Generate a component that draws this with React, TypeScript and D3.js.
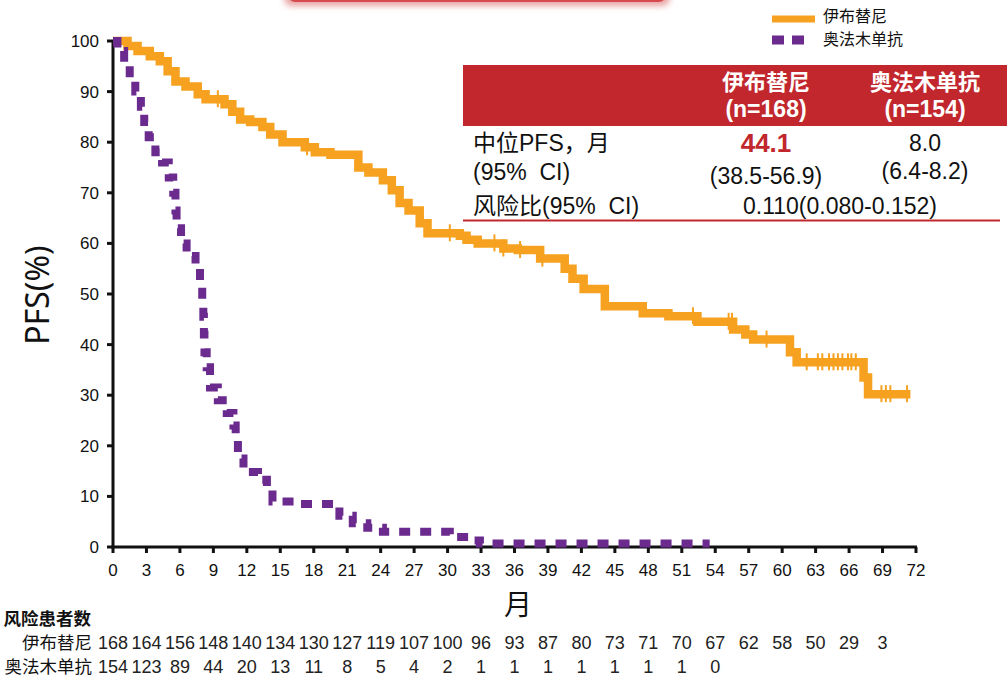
import React from "react";
import * as d3 from "d3";

// ---- Data ----
const xTicks = [0, 3, 6, 9, 12, 15, 18, 21, 24, 27, 30, 33, 36, 39, 42, 45, 48, 51, 54, 57, 60, 63, 66, 69, 72];
const yTicks = [0, 10, 20, 30, 40, 50, 60, 70, 80, 90, 100];

// Ibrutinib KM steps: [month, PFS%]
const ibrTimes = [0, 1.3, 2.2, 3.3, 4.2, 4.9, 5.6, 6.5, 7.6, 8.3, 10.0, 10.7, 11.4, 12.3, 13.4, 14.1, 15.2, 17.2, 18.1, 19.5, 22.0, 22.9, 24.2, 25.0, 25.7, 26.5, 27.5, 28.2, 31.1, 31.7, 32.7, 35.0, 36.3, 38.3, 40.5, 41.2, 42.2, 44.1, 47.5, 49.8, 52.4, 55.6, 56.7, 57.4, 60.7, 61.3, 67.3, 67.7];
const ibrValues = [100, 99, 98, 97, 96, 94, 92, 91, 89.5, 88.5, 87.5, 86, 84.5, 84, 83, 81.5, 80, 79, 78, 77.5, 75, 74, 72.5, 70.5, 68, 66.5, 64, 62, 61.5, 60.7, 60, 59, 58.7, 57, 55, 53, 51, 47.6, 46.2, 45.6, 44.5, 43, 42, 41, 38.5, 36.5, 33.5, 30.2];
const ibrEnd = 71.5;
const ibrCensor = [9.4, 17.4, 30.2, 34.2, 35.0, 36.5, 38.5, 52.0, 55.2, 55.5, 58.6, 62.2, 63.2, 63.6, 64.2, 64.6, 65.0, 65.4, 65.9, 66.2, 66.6, 68.9, 69.3, 69.7, 71.2];

// Ofatumumab KM steps
const ofaTimes = [0, 0.4, 1.0, 1.5, 2.0, 2.5, 2.8, 3.2, 3.8, 4.4, 5.0, 5.4, 5.6, 5.7, 6.1, 6.6, 7.4, 7.8, 8.0, 8.1, 8.15, 8.2, 8.4, 8.7, 9.4, 10.2, 10.8, 11.0, 11.2, 11.7, 13.0, 13.8, 14.3, 16.5, 20.3, 21.5, 22.8, 24.2, 30.2, 31.9, 32.9];
const ofaValues = [100, 98, 95.5, 92.5, 90, 87, 84, 81, 78, 76, 73, 70, 66.5, 63, 60, 57.5, 55.5, 52, 49, 45.5, 42, 38.5, 35.5, 31.5, 29, 26.5, 24, 21, 17.5, 14.8, 13.3, 11.3, 9, 8.5, 6.2, 4.7, 3.8, 3.0, 2.0, 1.3, 0.7];
const ofaEnd = 53.5;

const riskIbr = [168, 164, 156, 148, 140, 134, 130, 127, 119, 107, 100, 96, 93, 87, 80, 73, 71, 70, 67, 62, 58, 50, 29, 3];
const riskOfa = [154, 123, 89, 44, 20, 13, 11, 8, 5, 4, 2, 1, 1, 1, 1, 1, 1, 1, 0];

const seriesNames = ["伊布替尼", "奥法木单抗"];

const ORANGE = "#f6a11f";
const PURPLE = "#6b2a8e";
const RED = "#c1272d";
const LATIN = "'Liberation Sans', Arial, 'Noto Sans CJK SC', sans-serif";
const CJK = "'Noto Sans CJK SC', 'Liberation Sans', sans-serif";

export default function App() {
  const x = d3.scaleLinear().domain([0, 72]).range([113, 916]);
  const y = d3.scaleLinear().domain([0, 100]).range([547, 41]);

  const line = d3
    .line<[number, number]>()
    .x((d) => x(d[0]))
    .y((d) => y(d[1]))
    .curve(d3.curveStepAfter);

  const ibrPts: [number, number][] = ibrTimes.map((t, i) => [t, ibrValues[i]]);
  ibrPts.push([ibrEnd, ibrValues[ibrValues.length - 1]]);
  const ofaPts: [number, number][] = ofaTimes.map((t, i) => [t, ofaValues[i]]);
  ofaPts.push([ofaEnd, ofaValues[ofaValues.length - 1]]);

  const survAt = (t: number) => {
    let v = ibrValues[0];
    for (let i = 0; i < ibrTimes.length; i++) if (ibrTimes[i] <= t) v = ibrValues[i];
    return v;
  };

  const tableText = 23;

  return (
    <svg width={1007} height={682} style={{ position: "absolute", left: 0, top: 0, background: "#fff" }}>
      <defs>
        <filter id="blur" x="-20%" y="-50%" width="140%" height="200%">
          <feGaussianBlur stdDeviation="3" />
        </filter>
      </defs>
      {/* top cut-off red banner */}
      <rect x={284} y={-30} width={386} height={36} rx={8} fill="#e9a3a3" filter="url(#blur)" />
      <rect x={289} y={-30} width={376} height={32} rx={6} fill="#d44a4f" />

      {/* axes */}
      <line x1={113} x2={113} y1={y(100)} y2={y(0) + 1.5} stroke="#111" strokeWidth={3} />
      <line x1={111.5} x2={x(72) + 1} y1={y(0)} y2={y(0)} stroke="#111" strokeWidth={3} />
      {yTicks.map((t) => (
        <g key={"y" + t}>
          <line x1={107} x2={113} y1={y(t)} y2={y(t)} stroke="#111" strokeWidth={3} />
          <text x={99} y={y(t)} dy="0.35em" textAnchor="end" fontSize={17} fontFamily={LATIN} fill="#111">
            {t}
          </text>
        </g>
      ))}
      {xTicks.map((t) => (
        <g key={"x" + t}>
          <line x1={x(t)} x2={x(t)} y1={y(0)} y2={y(0) + 6} stroke="#111" strokeWidth={3} />
          <text x={x(t)} y={570} dy="0.35em" textAnchor="middle" fontSize={17} fontFamily={LATIN} fill="#111">
            {t}
          </text>
        </g>
      ))}

      {/* axis titles */}
      <text
        transform={`translate(49,295) rotate(-90)`}
        textAnchor="middle"
        fontSize={32}
        fontFamily="'Noto Sans', 'Open Sans', sans-serif"
        fill="#111"
      >
        PFS(%)
      </text>
      <text x={518} y={605} dy="0.35em" textAnchor="middle" fontSize={28} fontFamily={CJK} fill="#111">
        月
      </text>

      {/* curves */}
      <path d={line(ibrPts) || ""} fill="none" stroke={ORANGE} strokeWidth={8.5} strokeLinejoin="miter" />
      {ibrCensor.map((t, i) => (
        <line
          key={"c" + i}
          x1={x(t)}
          x2={x(t)}
          y1={y(survAt(t)) - 9}
          y2={y(survAt(t)) + 8}
          stroke={ORANGE}
          strokeWidth={2}
        />
      ))}
      <path d={line(ofaPts) || ""} fill="none" stroke={PURPLE} strokeWidth={8} strokeDasharray="11 10" />

      {/* legend */}
      <line x1={772} x2={815} y1={19} y2={19} stroke={ORANGE} strokeWidth={7} />
      <text x={823} y={16} dy="0.35em" fontSize={16} fontFamily={CJK} fill="#111">
        {seriesNames[0]}
      </text>
      <line x1={772} x2={806} y1={40} y2={40} stroke={PURPLE} strokeWidth={9} strokeDasharray="12 8" />
      <text x={823} y={39} dy="0.35em" fontSize={16} fontFamily={CJK} fill="#111">
        {seriesNames[1]}
      </text>

      {/* stats table */}
      <rect x={463} y={65} width={544} height={61} fill={RED} />
      <text x={766} y={82} dy="0.35em" textAnchor="middle" fontSize={22} fontWeight="bold" fontFamily={CJK} fill="#fff">
        {seriesNames[0]}
      </text>
      <text x={766} y={109} dy="0.35em" textAnchor="middle" fontSize={tableText} fontWeight="bold" fontFamily={LATIN} fill="#fff">
        (n=168)
      </text>
      <text x={925} y={82} dy="0.35em" textAnchor="middle" fontSize={22} fontWeight="bold" fontFamily={CJK} fill="#fff">
        {seriesNames[1]}
      </text>
      <text x={925} y={109} dy="0.35em" textAnchor="middle" fontSize={tableText} fontWeight="bold" fontFamily={LATIN} fill="#fff">
        (n=154)
      </text>

      <text x={473} y={143} dy="0.35em" fontSize={tableText} fontFamily={LATIN} fill="#111">
        中位PFS，月
      </text>
      <text x={473} y={172} dy="0.35em" fontSize={tableText} fontFamily={LATIN} fill="#111" style={{ whiteSpace: "pre" }}>
        {"(95%  CI)"}
      </text>
      <text x={473} y={206} dy="0.35em" fontSize={tableText} fontFamily={LATIN} fill="#111" style={{ whiteSpace: "pre" }}>
        {"风险比(95%  CI)"}
      </text>
      <text x={766} y={143} dy="0.35em" textAnchor="middle" fontSize={26} fontWeight="bold" fontFamily={LATIN} fill={RED}>
        44.1
      </text>
      <text x={766} y={176} dy="0.35em" textAnchor="middle" fontSize={tableText} fontFamily={LATIN} fill="#111">
        (38.5-56.9)
      </text>
      <text x={925} y={143} dy="0.35em" textAnchor="middle" fontSize={tableText} fontFamily={LATIN} fill="#111">
        8.0
      </text>
      <text x={925} y={171} dy="0.35em" textAnchor="middle" fontSize={tableText} fontFamily={LATIN} fill="#111">
        (6.4-8.2)
      </text>
      <text x={840} y={206} dy="0.35em" textAnchor="middle" fontSize={tableText} fontFamily={LATIN} fill="#111">
        0.110(0.080-0.152)
      </text>
      <line x1={463} x2={1000} y1={220.5} y2={220.5} stroke={RED} strokeWidth={2} />

      {/* at-risk table */}
      <text x={91} y={619} dy="0.35em" textAnchor="end" fontSize={17.5} fontWeight="bold" fontFamily={CJK} fill="#111">
        风险患者数
      </text>
      <text x={92} y={643} dy="0.35em" textAnchor="end" fontSize={17.5} fontFamily={CJK} fill="#111">
        {seriesNames[0]}
      </text>
      <text x={92} y={667} dy="0.35em" textAnchor="end" fontSize={17.5} fontFamily={CJK} fill="#111">
        {seriesNames[1]}
      </text>
      {riskIbr.map((n, i) => (
        <text key={"ri" + i} x={x(i * 3)} y={643} dy="0.35em" textAnchor="middle" fontSize={18} fontFamily={LATIN} fill="#222">
          {n}
        </text>
      ))}
      {riskOfa.map((n, i) => (
        <text key={"ro" + i} x={x(i * 3)} y={667} dy="0.35em" textAnchor="middle" fontSize={18} fontFamily={LATIN} fill="#222">
          {n}
        </text>
      ))}
    </svg>
  );
}
